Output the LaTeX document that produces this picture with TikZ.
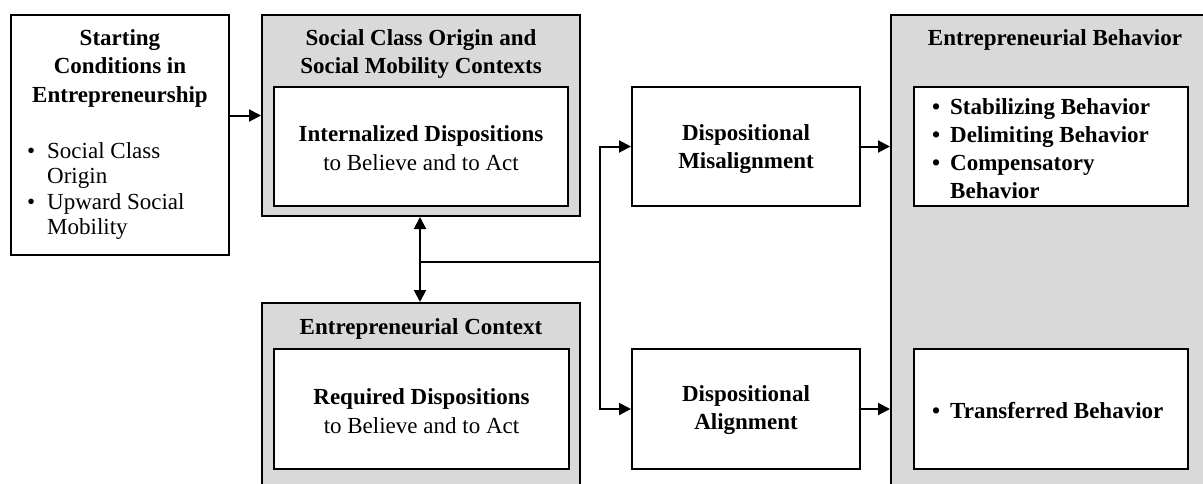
\documentclass[tikz,border=0pt]{standalone}
\usepackage{fontspec}
\setmainfont{Liberation Serif}
\usetikzlibrary{arrows.meta}
\definecolor{boxgray}{HTML}{D9D9D9}
\tikzset{
  outerbox/.style={draw=black, line width=2pt, fill=boxgray, inner sep=0pt},
  innerbox/.style={draw=black, line width=2pt, fill=white, inner sep=0pt},
  plainbox/.style={draw=black, line width=2pt, fill=white, inner sep=0pt},
  txt/.style={inner sep=0pt, align=center, font=\fontsize{23}{28.5}\selectfont},
  btxt/.style={inner sep=0pt, align=center, font=\fontsize{23}{28.5}\selectfont\bfseries},
  listtxt/.style={inner sep=0pt, align=left, anchor=west},
  conn/.style={line width=2pt},
  arr/.style={line width=2pt, -{Triangle[length=12pt,width=12pt]}},
  darr/.style={line width=2pt, {Triangle[length=12pt,width=12pt]}-{Triangle[length=12pt,width=12pt]}}
}
\begin{document}
\begin{tikzpicture}[x=1pt,y=-1pt]
\useasboundingbox (0,0) rectangle (1203,483);
\clip (0,0) rectangle (1203,483);
\fill[white] (0,0) rectangle (1203,483);

% boxes
\node[plainbox, minimum width=218pt, minimum height=240pt] (start) at (120,135) {};
\node[outerbox, minimum width=318pt, minimum height=201pt] (soc) at (421,115.5) {};
\node[innerbox, minimum width=294pt, minimum height=119pt] (socin) at (421,146.5) {};
\node[plainbox, minimum width=228pt, minimum height=119pt] (mis) at (746,146.5) {};
\node[outerbox, minimum width=318pt, minimum height=200pt] (ctx) at (421,403) {};
\node[innerbox, minimum width=295pt, minimum height=120pt] (ctxin) at (421.5,409) {};
\node[plainbox, minimum width=228pt, minimum height=120pt] (ali) at (746,409) {};
\node[outerbox, minimum width=329pt, minimum height=488pt] (beh) at (1055.5,259) {};
\node[innerbox, minimum width=274pt, minimum height=119pt] (beh1) at (1051,146.5) {};
\node[innerbox, minimum width=274pt, minimum height=120pt] (beh2) at (1051,409) {};

% texts
\node[btxt] (starttitle) at (120,68) {Starting\\Conditions in\\Entrepreneurship};
\node[listtxt, font=\fontsize{23}{25.5}\selectfont] (startlist) at (27,191)
  {\makebox[20pt][l]{•}Social Class\\\hspace*{20pt}Origin\\\makebox[20pt][l]{•}Upward Social\\\hspace*{20pt}Mobility};
\node[btxt] (soctitle) at (421,54) {Social Class Origin and\\Social Mobility Contexts};
\node[txt] (socintext) at (421,148) {\textbf{Internalized Dispositions}\\to Believe and to Act};
\node[btxt] (mistext) at (746,149) {Dispositional\\Misalignment};
\node[btxt] (ctxtitle) at (421,329) {Entrepreneurial Context};
\node[txt] (ctxintext) at (421.5,411) {\textbf{Required Dispositions}\\to Believe and to Act};
\node[btxt] (alitext) at (746,410) {Dispositional\\Alignment};
\node[btxt] (behtitle) at (1055,40) {Entrepreneurial Behavior};
\node[listtxt, font=\fontsize{23}{28}\selectfont\bfseries] (beh1list) at (932,149)
  {\makebox[18pt][l]{•}Stabilizing Behavior\\\makebox[18pt][l]{•}Delimiting Behavior\\\makebox[18pt][l]{•}Compensatory\\\hspace*{18pt}Behavior};
\node[listtxt, font=\fontsize{23}{28}\selectfont\bfseries] (beh2list) at (932,411)
  {\makebox[18pt][l]{•}Transferred Behavior};

% connectors
\coordinate (j1) at (420,262);
\coordinate (j2) at (600,262);
\draw[arr] (start.east |- soc.west) -- (soc.west);
\draw[darr] (soc.south -| j1) -- (ctx.north -| j1);
\draw[conn] (j1) -- (j2);
\draw[arr] (j2) |- (mis.west);
\draw[arr] (j2) |- (ali.west);
\draw[arr] (mis.east) -- (mis.east -| beh.west);
\draw[arr] (ali.east) -- (ali.east -| beh.west);
\end{tikzpicture}
\end{document}
